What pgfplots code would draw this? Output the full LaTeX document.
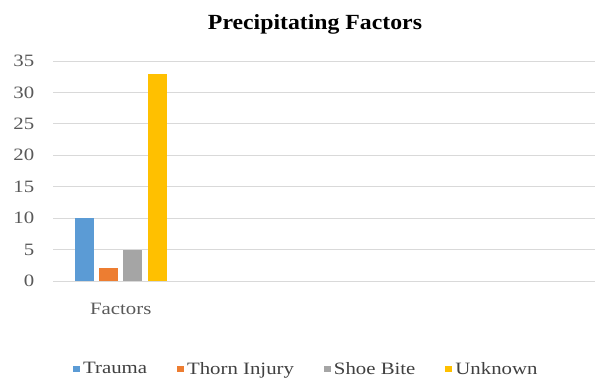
\documentclass[border=0pt]{standalone}
\usepackage{fontspec}
\setmainfont[FakeStretch=1.2]{Liberation Serif}
\newfontfamily\titlefont[FakeStretch=1.1]{Liberation Serif}
\usepackage{pgfplots}
\pgfplotsset{compat=1.18}

\definecolor{cTrauma}{HTML}{5B9BD5}
\definecolor{cThorn}{HTML}{ED7D31}
\definecolor{cShoe}{HTML}{A5A5A5}
\definecolor{cUnknown}{HTML}{FFC000}
\definecolor{gridc}{HTML}{D9D9D9}
\definecolor{tickc}{HTML}{595959}
\definecolor{legc}{HTML}{404040}

\newcommand{\bodyfont}{\fontsize{13pt}{15pt}\selectfont}

\begin{document}
\begin{tikzpicture}
\path[use as bounding box] (0,0) rectangle (450pt,284.25pt);
\begin{axis}[
  at={(39.75pt,73.5pt)}, anchor=south west,
  scale only axis,
  width=406.5pt, height=165pt,
  /pgf/number format/assume math mode=true,
  ybar=4.1pt, bar width=14.25pt,
  xmin=-0.5, xmax=3.5,
  ymin=0, ymax=35,
  xtick={0}, xticklabels={Factors},
  ytick={0,5,...,35},
  major tick length=0pt,
  axis line style={draw=none},
  ymajorgrids,
  grid style={gridc, line width=0.75pt},
  tick label style={font=\bodyfont, text=tickc},
  yticklabel style={xshift=-10.5pt},
  xticklabel style={yshift=-13pt},
  title={Precipitating Factors},
  title style={font=\titlefont\bfseries\fontsize{16.2pt}{19pt}\selectfont,
    at={(axis description cs:0.4834,1)}, anchor=base, yshift=17.8pt, inner sep=0pt},
  legend columns=4,
  legend style={draw=none, fill=none, font=\bodyfont, text=legc,
    at={(axis description cs:0.468,0)}, anchor=center, yshift=-66pt,
    /tikz/every odd column/.append style={column sep=0.5pt},
    /tikz/every even column/.append style={column sep=20.5pt}},
  sq/.style={legend image code/.code={\fill[##1] (0pt,-2.5pt) rectangle (5pt,2.5pt);}},
]
\addplot[fill=cTrauma, draw=none, sq] coordinates {(0,10)};
\addlegendentry{Trauma}
\addplot[fill=cThorn, draw=none, sq] coordinates {(0,2)};
\addlegendentry{Thorn Injury}
\addplot[fill=cShoe, draw=none, sq] coordinates {(0,5)};
\addlegendentry{Shoe Bite}
\addplot[fill=cUnknown, draw=none, sq] coordinates {(0,33)};
\addlegendentry{Unknown}
\end{axis}
\end{tikzpicture}
\end{document}
